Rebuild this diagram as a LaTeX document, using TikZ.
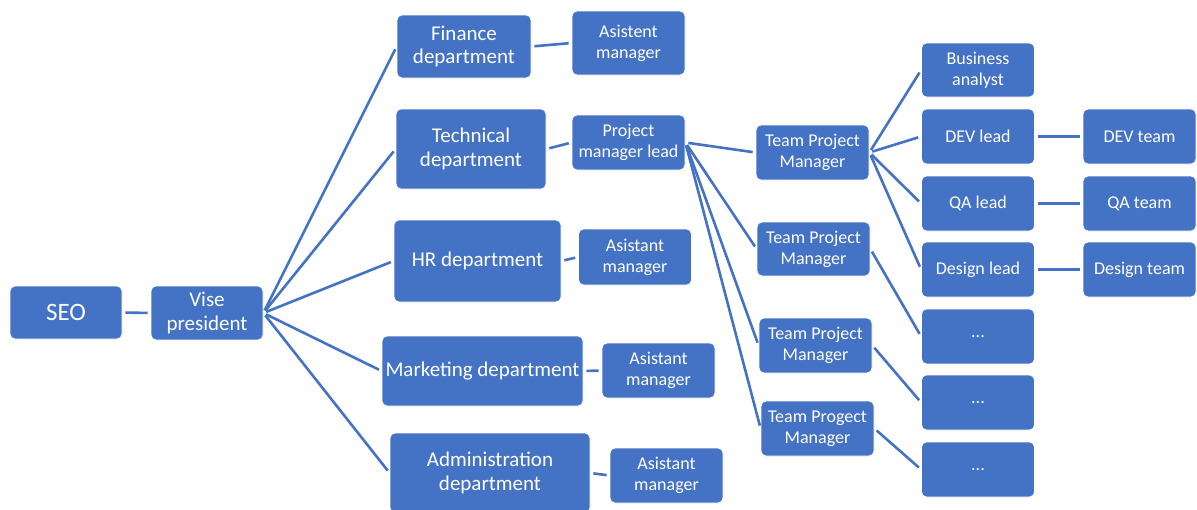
\documentclass[tikz,border=0pt]{standalone}
\usepackage{fontspec}
\setmainfont{Carlito}

\definecolor{boxblue}{HTML}{4472C4}

\tikzset{
  box/.style={draw=white, line width=0.8pt, fill=boxblue, text=white,
    rounded corners=5pt, align=center, inner sep=0pt},
  dept/.style={box, font=\fontsize{21}{23.5}\selectfont},
  small/.style={box, minimum width=113pt, minimum height=55pt,
    font=\fontsize{18}{21}\selectfont},
  link/.style={draw=boxblue, line width=2.6pt, shorten <=3pt, shorten >=3pt},
}

\begin{document}
\begin{tikzpicture}[x=1pt,y=-1pt]
    \useasboundingbox (0,0) rectangle (1197,509);
    % top of the chart
    \node[dept, minimum width=112pt, minimum height=53pt,
      font=\fontsize{25}{28}\selectfont] (seo) at (66,312.5) {SEO};
    \node[dept, minimum width=112pt, minimum height=54pt] (vp) at (207,313) {Vise\\president};
    % departments
    \node[dept, minimum width=134pt, minimum height=63pt] (fin) at (464,46.5) {Finance\\department};
    \node[dept, minimum width=150pt, minimum height=80pt] (tech) at (471,149) {Technical\\department};
    \node[dept, minimum width=167pt, minimum height=82pt] (hr) at (477.5,261) {HR department};
    \node[dept, minimum width=201pt, minimum height=70pt] (mkt) at (482.5,371) {Marketing department};
    \node[dept, minimum width=200pt, minimum height=80pt] (adm) at (490,473) {Administration\\department};
    % assistants and project lead
    \node[small, minimum height=64pt] (finasst) at (628.5,43) {Asistent\\manager};
    \node[small] (pml) at (628.5,142.5) {Project\\manager lead};
    \node[small, minimum height=56pt] (hrasst) at (635,257) {Asistant\\manager};
    \node[small] (mktasst) at (658.5,370.5) {Asistant\\manager};
    \node[small] (admasst) at (666.5,475.5) {Asistant\\manager};
    % team project managers
    \node[small] (tpma) at (812.5,152.5) {Team Project\\Manager};
    \node[small, minimum height=54pt] (tpmb) at (813.5,249) {Team Project\\Manager};
    \node[small] (tpmc) at (815.5,345.5) {Team Project\\Manager};
    \node[small] (tpmd) at (817.5,428.5) {Team Progect\\Manager};
    % leads
    \node[small, minimum height=54pt] (ba) at (978,70) {Business\\analyst};
    \node[small] (devlead) at (978,136.5) {DEV lead};
    \node[small] (qalead) at (978,203.5) {QA lead};
    \node[small] (deslead) at (978,269.5) {Design lead};
    \node[small] (dotsa) at (978,336.5) {...};
    \node[small] (dotsb) at (978,402.5) {...};
    \node[small] (dotsc) at (978,469.5) {...};
    % teams
    \node[small] (devteam) at (1139.5,136.5) {DEV team};
    \node[small] (qateam) at (1139.5,203.5) {QA team};
    \node[small] (desteam) at (1139.5,269.5) {Design team};

    % connectors
    \draw[link] (seo.east) -- (vp.west);
    \foreach \d in {fin,tech,hr,mkt,adm}
      \draw[link] (vp.east) -- (\d.west);
    \foreach \a/\b in {fin/finasst,tech/pml,hr/hrasst,mkt/mktasst,adm/admasst}
      \draw[link] (\a.east) -- (\b.west);
    \foreach \t in {tpma,tpmb,tpmc,tpmd}
      \draw[link] (pml.east) -- (\t.west);
    \foreach \l in {ba,devlead,qalead,deslead}
      \draw[link] (tpma.east) -- (\l.west);
    \foreach \a/\b in {tpmb/dotsa,tpmc/dotsb,tpmd/dotsc,devlead/devteam,qalead/qateam,deslead/desteam}
      \draw[link] (\a.east) -- (\b.west);
\end{tikzpicture}
\end{document}
